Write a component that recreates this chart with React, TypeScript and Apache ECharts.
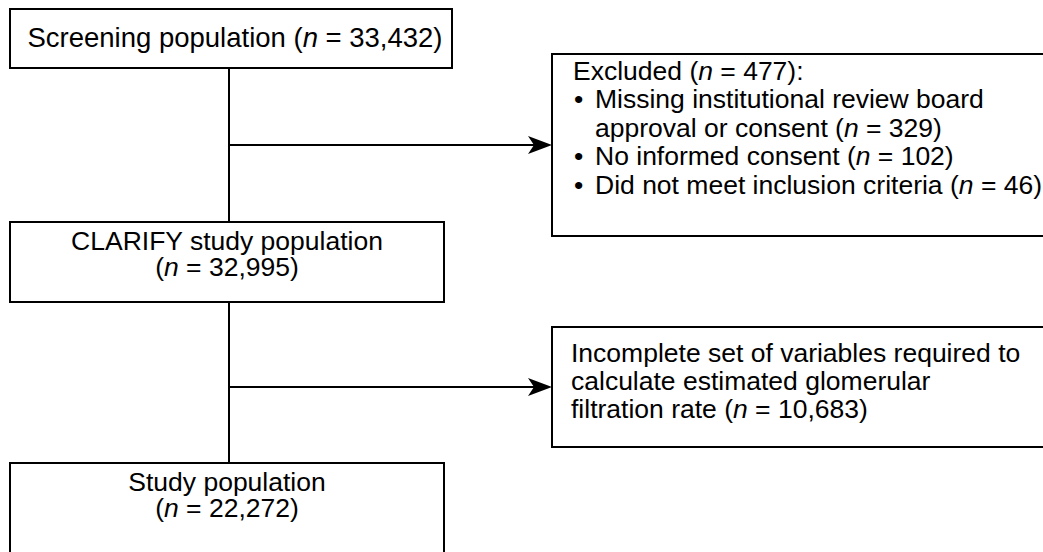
import React, { useEffect, useRef } from "react";
import * as echarts from "echarts";

// ---- Data (flowchart content) ----
const stageLabels = ["Screening population", "CLARIFY study population", "Study population"];
const stageCounts = ["33,432", "32,995", "22,272"];
const excludedTotal = "477";
const exclusionReasonLines = [
  ["Missing institutional review board", "approval or consent"],
  ["No informed consent"],
  ["Did not meet inclusion criteria"],
];
const exclusionCounts = ["329", "102", "46"];
const egfrLines = ["Incomplete set of variables required to", "calculate estimated glomerular", "filtration rate"];
const egfrCount = "10,683";

// ---- Layout ----
const FONT = "'Liberation Sans', Arial, Helvetica, sans-serif";
const FS = 26.5;
const STROKE = "#000";
const LW = 2;
const LINE_X = 229;

function makeRich(fs: number) {
  return {
    r: { fontSize: fs, fontFamily: FONT, fill: "#000", lineHeight: 24 },
    i: { fontSize: fs, fontFamily: FONT, fill: "#000", fontStyle: "italic", lineHeight: 24 },
  };
}

function nText(prefix: string, count: string, suffix = ")") {
  return `{r|${prefix}(}{i|n}{r| = ${count}${suffix}}`;
}

function textEl(x: number, y: number, text: string, align: "left" | "center" = "left", fs = FS) {
  return {
    type: "text",
    x,
    y,
    z: 10,
    style: {
      text,
      rich: makeRich(fs),
      fontSize: fs,
      fontFamily: FONT,
      lineHeight: 24,
      fill: "#000",
      align,
      verticalAlign: "middle",
    },
  };
}

function rectEl(x: number, y: number, w: number, h: number) {
  return {
    type: "rect",
    z: 5,
    shape: { x, y, width: w, height: h },
    style: { fill: "#fff", stroke: STROKE, lineWidth: LW },
  };
}

function lineEl(x1: number, y1: number, x2: number, y2: number) {
  return {
    type: "line",
    z: 1,
    shape: { x1, y1, x2, y2 },
    style: { stroke: STROKE, lineWidth: LW },
  };
}

function arrowHead(tx: number, ty: number) {
  return {
    type: "polygon",
    z: 6,
    shape: {
      points: [
        [tx, ty],
        [tx - 24, ty - 9],
        [tx - 18, ty],
        [tx - 24, ty + 9],
      ],
    },
    style: { fill: STROKE },
  };
}

export default function App() {
  const ref = useRef<HTMLDivElement>(null);

  useEffect(() => {
    if (!ref.current) return;
    const chart = echarts.init(ref.current, undefined, { renderer: "svg" });

    const elements: any[] = [];

    // connectors
    elements.push(lineEl(LINE_X, 68, LINE_X, 463));
    elements.push(lineEl(LINE_X, 145, 540, 145));
    elements.push(lineEl(LINE_X, 387, 540, 387));
    elements.push(arrowHead(552, 145));
    elements.push(arrowHead(552, 387));

    // main boxes
    elements.push(rectEl(10, 9, 442, 59));
    elements.push(textEl(235, 37, nText(stageLabels[0] + " ", stageCounts[0]), "center", 27.5));

    elements.push(rectEl(10, 222, 434, 80));
    elements.push(textEl(227, 241, `{r|${stageLabels[1]}}`, "center"));
    elements.push(textEl(227, 267, nText("", stageCounts[1]), "center"));

    elements.push(rectEl(10, 463, 434, 110));
    elements.push(textEl(227, 482, `{r|${stageLabels[2]}}`, "center"));
    elements.push(textEl(227, 508, nText("", stageCounts[2]), "center"));

    // exclusion box
    elements.push(rectEl(552, 54, 500, 182));
    elements.push(textEl(573, 71, nText("Excluded ", excludedTotal, "):")));
    let y = 71 + 28.4;
    exclusionReasonLines.forEach((lines, k) => {
      elements.push(textEl(574, y, "{r|•}"));
      lines.forEach((ln, j) => {
        const last = j === lines.length - 1;
        const t = last ? nText(ln + " ", exclusionCounts[k]) : `{r|${ln}}`;
        elements.push(textEl(595, y, t));
        y += 28.4;
      });
    });

    // eGFR box
    elements.push(rectEl(552, 327, 500, 120));
    egfrLines.forEach((ln, j) => {
      const last = j === egfrLines.length - 1;
      const t = last ? nText(ln + " ", egfrCount) : `{r|${ln}}`;
      elements.push(textEl(571, 353 + j * 28, t));
    });

    chart.setOption({
      animation: false,
      backgroundColor: "#fff",
      graphic: { elements },
    });

    return () => chart.dispose();
  }, []);

  return (
    <div
      ref={ref}
      style={{ position: "absolute", left: 0, top: 0, width: 1043, height: 552, background: "#fff" }}
    />
  );
}
